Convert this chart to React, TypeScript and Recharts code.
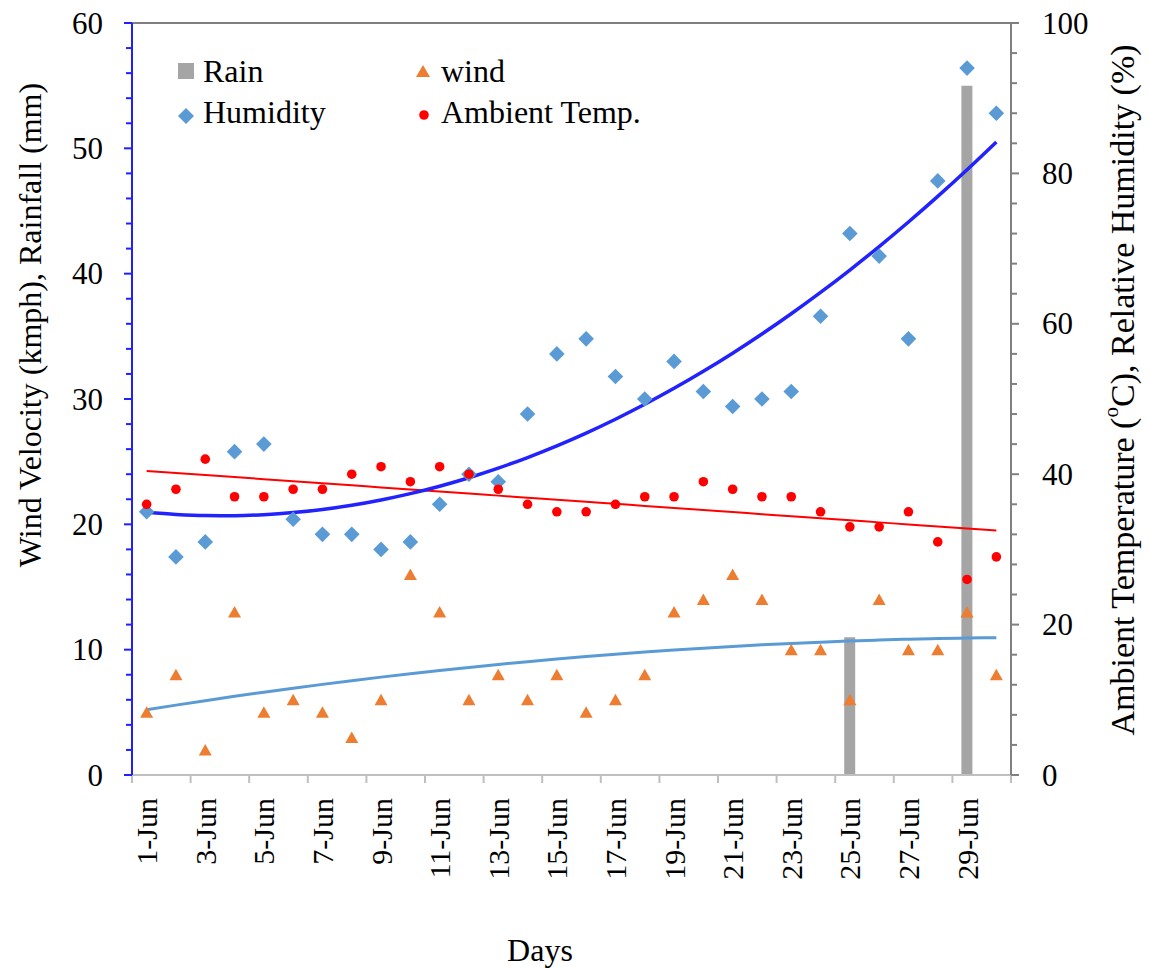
import React from 'react';
import { ComposedChart, Bar, Line, XAxis, YAxis, ReferenceLine } from 'recharts';

// categories
const DAYS = [
  '1-Jun', '2-Jun', '3-Jun', '4-Jun', '5-Jun', '6-Jun', '7-Jun', '8-Jun', '9-Jun', '10-Jun',
  '11-Jun', '12-Jun', '13-Jun', '14-Jun', '15-Jun', '16-Jun', '17-Jun', '18-Jun', '19-Jun', '20-Jun',
  '21-Jun', '22-Jun', '23-Jun', '24-Jun', '25-Jun', '26-Jun', '27-Jun', '28-Jun', '29-Jun', '30-Jun',
];

// left axis series (kmph / mm)
const RAIN = [0, 0, 0, 0, 0, 0, 0, 0, 0, 0, 0, 0, 0, 0, 0, 0, 0, 0, 0, 0, 0, 0, 0, 0, 11, 0, 0, 0, 55, 0];
const WIND = [5, 8, 2, 13, 5, 6, 5, 3, 6, 16, 13, 6, 8, 6, 8, 5, 6, 8, 13, 14, 16, 14, 10, 10, 6, 14, 10, 10, 13, 8];

// right axis series (°C / %)
const HUMIDITY = [35, 29, 31, 43, 44, 34, 32, 32, 30, 31, 36, 40, 39, 48, 56, 58, 53, 50, 55, 51, 49, 50, 51, 61, 72, 69, 58, 79, 94, 88];
const TEMP = [36, 38, 42, 37, 37, 38, 38, 40, 41, 39, 41, 40, 38, 36, 35, 35, 36, 37, 37, 39, 38, 37, 37, 35, 33, 33, 35, 31, 26, 29];

// axis ticks
const LEFT_MAJOR = [0, 10, 20, 30, 40, 50, 60];
const LEFT_MINOR_STEP = 2;
const RIGHT_MAJOR = [0, 20, 40, 60, 80, 100];
const RIGHT_MINOR_STEP = 4;

const FONT = 'Liberation Serif, Times New Roman, serif';
const BLUE_AXIS = '#2020ff';
const GRAY_AXIS = '#808080';
const X_AXIS = '#bfbfbf';
const textStyle = { fontFamily: FONT };

// least squares polynomial fit over day index (1..n), like an Excel trendline
function polyFit(ys: number[], degree: number): number[] {
  const n = degree + 1;
  const A = Array.from({ length: n }, () => new Array(n + 1).fill(0));
  ys.forEach((y, i) => {
    const x = i + 1;
    for (let r = 0; r < n; r++) {
      for (let c = 0; c < n; c++) A[r][c] += Math.pow(x, r + c);
      A[r][n] += y * Math.pow(x, r);
    }
  });
  for (let p = 0; p < n; p++) {
    let max = p;
    for (let r = p + 1; r < n; r++) if (Math.abs(A[r][p]) > Math.abs(A[max][p])) max = r;
    [A[p], A[max]] = [A[max], A[p]];
    for (let r = 0; r < n; r++) {
      if (r === p) continue;
      const f = A[r][p] / A[p][p];
      for (let c = p; c <= n; c++) A[r][c] -= f * A[p][c];
    }
  }
  return A.map((row, i) => row[n] / row[i]);
}
const evalPoly = (coef: number[], x: number) => coef.reduce((s, c, k) => s + c * Math.pow(x, k), 0);

const humFit = polyFit(HUMIDITY, 2);
const windFit = polyFit(WIND, 2);
const tempFit = polyFit(TEMP, 1);

const data = DAYS.map((day, i) => ({
  day,
  rain: RAIN[i],
  wind: WIND[i],
  humidity: HUMIDITY[i],
  temp: TEMP[i],
  humTrend: evalPoly(humFit, i + 1),
  windTrend: evalPoly(windFit, i + 1),
  tempTrend: evalPoly(tempFit, i + 1),
}));

const range = (max: number, step: number) => Array.from({ length: max / step + 1 }, (_, i) => i * step);
const leftTicks = range(LEFT_MAJOR[LEFT_MAJOR.length - 1], LEFT_MINOR_STEP);
const rightTicks = range(RIGHT_MAJOR[RIGHT_MAJOR.length - 1], RIGHT_MINOR_STEP);

const LeftTick = (props: any) => {
  const { x, y, payload } = props;
  const major = LEFT_MAJOR.includes(payload.value);
  return (
    <g>
      <line x1={x} x2={x - (major ? 8 : 6)} y1={y} y2={y} stroke={BLUE_AXIS} strokeWidth={2} />
      {major && (
        <text x={x - 29} y={y} textAnchor="end" dominantBaseline="central" fontSize={31} style={textStyle} fill="#000">
          {payload.value}
        </text>
      )}
    </g>
  );
};

const RightTick = (props: any) => {
  const { x, y, payload } = props;
  const major = RIGHT_MAJOR.includes(payload.value);
  return (
    <g>
      <line x1={x} x2={x + (major ? 8 : 6)} y1={y} y2={y} stroke={GRAY_AXIS} strokeWidth={2} />
      {major && (
        <text x={x + 31} y={y} textAnchor="start" dominantBaseline="central" fontSize={31} style={textStyle} fill="#000">
          {payload.value}
        </text>
      )}
    </g>
  );
};

const DayTick = (props: any) => {
  const { x, y, payload } = props;
  const half = payload.offset || 14.65;
  const ty = y + 23;
  return (
    <g>
      <line x1={x - half} x2={x - half} y1={y} y2={y + 8} stroke={X_AXIS} strokeWidth={2} />
      {payload.value === DAYS[DAYS.length - 2] && (
        <line x1={x + 3 * half} x2={x + 3 * half} y1={y} y2={y + 8} stroke={X_AXIS} strokeWidth={2} />
      )}
      <text
        x={x}
        y={ty}
        transform={`rotate(-90 ${x} ${ty})`}
        textAnchor="end"
        dy="0.35em"
        fontSize={30}
        style={textStyle}
        fill="#000"
      >
        {payload.value}
      </text>
    </g>
  );
};

const Diamond = (props: any) => {
  const { cx, cy, index } = props;
  if (cx == null || cy == null) return <g key={`h${index}`} />;
  const s = 7.8;
  return <path key={`h${index}`} d={`M${cx},${cy - s}L${cx + s},${cy}L${cx},${cy + s}L${cx - s},${cy}Z`} fill="#5b9bd5" />;
};

const Triangle = (props: any) => {
  const { cx, cy, index } = props;
  if (cx == null || cy == null) return <g key={`w${index}`} />;
  return <path key={`w${index}`} d={`M${cx},${cy - 6}L${cx + 6.5},${cy + 5.5}L${cx - 6.5},${cy + 5.5}Z`} fill="#ed7d31" />;
};

const Dot = (props: any) => {
  const { cx, cy, index } = props;
  if (cx == null || cy == null) return <g key={`t${index}`} />;
  return <circle key={`t${index}`} cx={cx} cy={cy} r={4.8} fill="#ff0000" />;
};

export default function App() {
  return (
    <div style={{ position: 'absolute', left: 0, top: 0, width: 1149, height: 968, background: '#fff', fontFamily: FONT }}>
      <ComposedChart width={1149} height={968} data={data} margin={{ top: 23, right: 0, bottom: 0, left: 0 }}>
        <XAxis
          dataKey="day"
          height={193}
          interval={1}
          tickSize={0}
          tickMargin={0}
          tickLine={false}
          tick={<DayTick />}
          axisLine={{ stroke: X_AXIS, strokeWidth: 2 }}
        />
        <YAxis
          yAxisId="left"
          orientation="left"
          width={132}
          domain={[0, 60]}
          ticks={leftTicks}
          interval={0}
          tickSize={0}
          tickMargin={0}
          tickLine={false}
          tick={<LeftTick />}
          axisLine={{ stroke: BLUE_AXIS, strokeWidth: 2 }}
        />
        <YAxis
          yAxisId="right"
          orientation="right"
          width={138}
          domain={[0, 100]}
          ticks={rightTicks}
          interval={0}
          tickSize={0}
          tickMargin={0}
          tickLine={false}
          tick={<RightTick />}
          axisLine={{ stroke: GRAY_AXIS, strokeWidth: 2 }}
        />
        <ReferenceLine yAxisId="left" y={60} stroke={GRAY_AXIS} strokeWidth={2} />

        <Line yAxisId="left" dataKey="windTrend" type="monotone" stroke="#5b9bd5" strokeWidth={3} dot={false} activeDot={false} isAnimationActive={false} />
        <Line yAxisId="right" dataKey="tempTrend" type="monotone" stroke="#ff0000" strokeWidth={2} dot={false} activeDot={false} isAnimationActive={false} />
        <Line yAxisId="right" dataKey="humTrend" type="monotone" stroke="#2222ff" strokeWidth={3.5} dot={false} activeDot={false} isAnimationActive={false} />

        <Bar yAxisId="left" dataKey="rain" barSize={11} fill="#a5a5a5" isAnimationActive={false} />

        <Line yAxisId="right" dataKey="humidity" stroke="none" dot={Diamond} activeDot={false} isAnimationActive={false} />
        <Line yAxisId="left" dataKey="wind" stroke="none" dot={Triangle} activeDot={false} isAnimationActive={false} />
        <Line yAxisId="right" dataKey="temp" stroke="none" dot={Dot} activeDot={false} isAnimationActive={false} />
      </ComposedChart>

      <svg width={1149} height={968} style={{ position: 'absolute', left: 0, top: 0, pointerEvents: 'none', fontFamily: FONT }}>
        <g fill="#000">
          {/* legend */}
          <rect x={178} y={63} width={16} height={16} fill="#a5a5a5" />
          <text x={203} y={82} fontSize={32}>Rain</text>
          <path d="M186,108L194,116L186,124L178,116Z" fill="#5b9bd5" />
          <text x={203} y={123} fontSize={32}>Humidity</text>
          <path d="M423,65L430,77L416,77Z" fill="#ed7d31" />
          <text x={441} y={82} fontSize={32}>wind</text>
          <circle cx={424} cy={115} r={4.8} fill="#ff0000" />
          <text x={441} y={123} fontSize={32}>Ambient Temp.</text>

          {/* axis titles */}
          <text transform="translate(30 325) rotate(-90)" textAnchor="middle" dominantBaseline="central" fontSize={32}>
            Wind Velocity (kmph), Rainfall (mm)
          </text>
          <text transform="translate(1122 390) rotate(-90)" textAnchor="middle" dominantBaseline="central" fontSize={34}>
            Ambient Temperature (<tspan fontSize={21} dy={-11}>o</tspan>
            <tspan dy={11}>C), Relative Humidity (%)</tspan>
          </text>
          <text x={540} y={961} textAnchor="middle" fontSize={32}>Days</text>
        </g>
      </svg>
    </div>
  );
}
